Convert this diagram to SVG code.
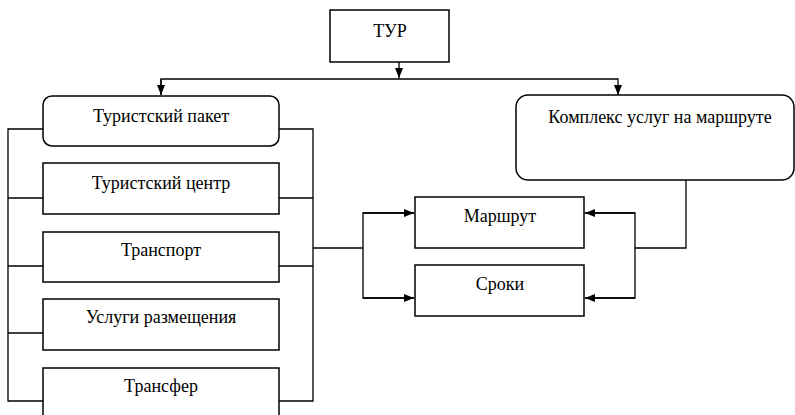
<svg xmlns="http://www.w3.org/2000/svg" width="795" height="415" viewBox="0 0 795 415">
<style>
.box{fill:#fff;stroke:#000;stroke-width:1.5}
.ln{fill:none;stroke:#000;stroke-width:1.3}
.t{font-family:"Times New Roman","Liberation Serif",Tinos,"DejaVu Serif",serif;font-size:18px;fill:#000;text-anchor:middle}
</style>
<defs>
<marker id="ah" viewBox="0 0 10 10" refX="10" refY="5" markerWidth="10" markerHeight="10" markerUnits="userSpaceOnUse" orient="auto">
<path d="M0,1 L10,5 L0,9 Z" fill="#000"/>
</marker>
</defs>
<rect width="795" height="415" fill="#fff"/>
<g id="connectors">
<line class="ln" x1="399" y1="62" x2="399" y2="78" marker-end="url(#ah)"/>
<polyline class="ln" points="161,95 161,79 618,79 618,95" marker-end="url(#ah)"/>
<line class="ln" x1="161" y1="79" x2="161" y2="95" marker-end="url(#ah)"/>
<polyline class="ln" points="43,129 8,129 8,401 43,401"/>
<line class="ln" x1="8" y1="198" x2="43" y2="198"/>
<line class="ln" x1="8" y1="266" x2="43" y2="266"/>
<line class="ln" x1="8" y1="333" x2="43" y2="333"/>
<polyline class="ln" points="279,129 313,129 313,401 279,401"/>
<line class="ln" x1="279" y1="198" x2="313" y2="198"/>
<line class="ln" x1="279" y1="266" x2="313" y2="266"/>
<line class="ln" x1="313" y1="248" x2="363" y2="248"/>
<polyline class="ln" points="414,213 363,213 363,298 414,298"/>
<line class="ln" x1="363" y1="213" x2="414" y2="213" marker-end="url(#ah)"/>
<line class="ln" x1="363" y1="298" x2="414" y2="298" marker-end="url(#ah)"/>
<polyline class="ln" points="585,213 635,213 635,298 585,298"/>
<line class="ln" x1="635" y1="213" x2="585" y2="213" marker-end="url(#ah)"/>
<line class="ln" x1="635" y1="298" x2="585" y2="298" marker-end="url(#ah)"/>
<polyline class="ln" points="635,248 686,248 686,180"/>
</g>
<g id="tur"><rect class="box" x="330" y="10" width="119" height="52"/><text class="t" x="390" y="37">ТУР</text></g>
<g id="paket"><rect class="box" x="43" y="96" width="236" height="50" rx="9"/><text class="t" x="161" y="122">Туристский пакет</text></g>
<g id="centr"><rect class="box" x="43" y="163" width="236" height="51"/><text class="t" x="161" y="189">Туристский центр</text></g>
<g id="transport"><rect class="box" x="43" y="232" width="236" height="50"/><text class="t" x="161" y="256">Транспорт</text></g>
<g id="razmeshchenie"><rect class="box" x="43" y="299" width="236" height="51"/><text class="t" x="161" y="323">Услуги размещения</text></g>
<g id="transfer"><rect class="box" x="43" y="368" width="236" height="60"/><text class="t" x="161" y="392">Трансфер</text></g>
<g id="kompleks"><rect class="box" x="516" y="95" width="278" height="85" rx="12"/><text class="t" x="660" y="123">Комплекс услуг на маршруте</text></g>
<g id="marshrut"><rect class="box" x="415" y="197" width="169" height="51"/><text class="t" x="500" y="222">Маршрут</text></g>
<g id="sroki"><rect class="box" x="415" y="265" width="169" height="51"/><text class="t" x="500" y="290">Сроки</text></g>
</svg>
